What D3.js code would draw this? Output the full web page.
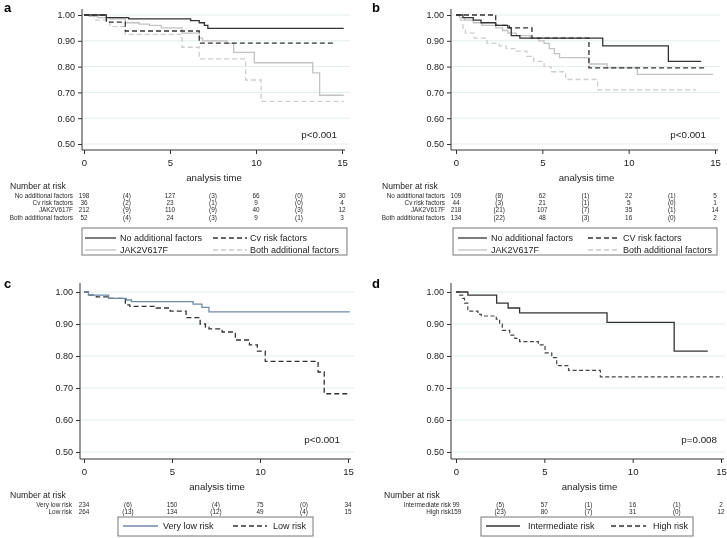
<!DOCTYPE html>
<html>
<head>
<meta charset="utf-8">
<script src="https://cdn.jsdelivr.net/npm/d3@7"></script>
<style>
  body { margin: 0; background: #fff; }
  svg { display: block; font-family: "Liberation Sans", Arial, sans-serif; will-change: transform; }
  .tick text { font-size: 9px; fill: #222; }
  .tick line, .axis-line { stroke: #333; }
  .grid { stroke: #e3edee; stroke-width: 1; }
  .lbl { font-size: 9.6px; fill: #222; }
  .risk { font-size: 6.4px; fill: #2a2a2a; opacity: 0.999; }
  .leg { font-size: 9px; fill: #222; }
  .panel-id { font-size: 13px; font-weight: bold; }
</style>
</head>
<body>
<div class="content"></div>
<script>
// ---- data: [time, survival] steps ----
const aNone = [[0,1],[1.3,0.99],[2.6,0.985],[6.2,0.978],[6.7,0.97],[7.0,0.96],[7.2,0.948],[15.1,0.948]];
const aCv = [[0,1],[1.3,0.972],[2.4,0.938],[6.7,0.891],[14.5,0.891]];
const aJak = [[0,1],[0.3,0.995],[0.8,0.99],[1.5,0.985],[2.4,0.97],[3.2,0.965],[3.8,0.96],[4.5,0.95],[5.7,0.93],[6.7,0.91],[6.9,0.9],[8.3,0.89],[8.7,0.855],[9.9,0.815],[13.3,0.776],[13.7,0.689],[15.1,0.689]];
const aBoth = [[0,1],[0.6,0.98],[1.5,0.955],[2.4,0.925],[5.7,0.875],[6.7,0.83],[9.4,0.748],[10.3,0.665],[15.1,0.665]];

const bNone = [[0,1],[0.4,0.99],[1.0,0.98],[1.45,0.97],[2.3,0.96],[3.0,0.95],[3.2,0.92],[3.7,0.91],[8.5,0.88],[12.3,0.82],[14.2,0.82]];
const bCv = [[0,1],[2.3,0.96],[3.1,0.95],[4.4,0.91],[7.7,0.795],[14.4,0.795]];
const bJak = [[0,1],[0.2,0.99],[0.5,0.98],[1.0,0.97],[1.5,0.96],[2.3,0.95],[2.7,0.94],[3.0,0.93],[3.5,0.92],[4.3,0.91],[4.8,0.9],[5.1,0.89],[5.4,0.87],[5.7,0.85],[6.0,0.835],[7.7,0.81],[8.75,0.795],[10.5,0.77],[14.9,0.77]];
const bBoth = [[0,1],[0.25,0.98],[0.4,0.95],[0.55,0.93],[1.05,0.91],[1.8,0.89],[2.5,0.88],[2.9,0.87],[3.5,0.86],[4.1,0.84],[4.5,0.82],[5.1,0.8],[5.5,0.78],[6.35,0.75],[8.2,0.71],[13.9,0.71]];

const cVeryLow = [[0,1],[0.25,0.99],[1.4,0.98],[2.4,0.975],[2.7,0.97],[6.2,0.962],[6.7,0.952],[7.1,0.938],[15.1,0.938]];
const cLow = [[0,1],[0.25,0.99],[0.7,0.985],[1.5,0.98],[2.35,0.96],[2.6,0.955],[4.1,0.95],[4.9,0.94],[5.8,0.92],[6.6,0.9],[6.9,0.89],[7.1,0.885],[7.85,0.875],[8.6,0.85],[9.4,0.835],[9.85,0.815],[10.3,0.783],[13.3,0.75],[13.65,0.682],[15.1,0.682]];

const dInter = [[0,1],[0.67,0.99],[2.3,0.965],[2.95,0.95],[3.6,0.935],[8.55,0.905],[12.35,0.815],[14.25,0.815]];
const dHigh = [[0,1],[0.2,0.99],[0.38,0.98],[0.48,0.965],[0.67,0.94],[1.24,0.93],[1.43,0.925],[2.28,0.915],[2.47,0.9],[2.62,0.88],[3.04,0.865],[3.33,0.855],[3.6,0.845],[4.66,0.835],[5.04,0.81],[5.42,0.795],[5.7,0.77],[6.37,0.755],[8.17,0.735],[15.1,0.735]];

// ---- number at risk tables ----
const riskTimes = [0, 2.5, 5, 7.5, 10, 12.5, 15];
const aRiskLabels = ["No additional factors", "Cv risk factors", "JAK2V617F", "Both additional factors"];
const aRisk = [
  ["198","(4)","127","(3)","66","(0)","30"],
  ["36","(2)","23","(1)","9","(0)","4"],
  ["212","(9)","110","(9)","40","(3)","12"],
  ["52","(4)","24","(3)","9","(1)","3"]
];
const bRiskLabels = ["No additional factors", "Cv risk factors", "JAK2V617F", "Both additional factors"];
const bRisk = [
  ["109","(8)","62","(1)","22","(1)","5"],
  ["44","(3)","21","(1)","5","(0)","1"],
  ["218","(21)","107","(7)","35","(1)","14"],
  ["134","(22)","48","(3)","16","(0)","2"]
];
const cRiskLabels = ["Very low risk", "Low risk"];
const cRisk = [
  ["234","(6)","150","(4)","75","(0)","34"],
  ["264","(13)","134","(12)","49","(4)","15"]
];
const dRiskLabels = ["Intermediate risk", "High risk"];
const dRisk = [
  ["99","(5)","57","(1)","16","(1)","2"],
  ["159","(23)","80","(7)","31","(0)","12"]
];

const yTicks = [0.5, 0.6, 0.7, 0.8, 0.9, 1.0];
const xTicks = [0, 5, 10, 15];

const styles = {
  dark: { stroke: "#333", dash: null, w: 1.3 },
  darkDash: { stroke: "#333", dash: "5,3", w: 1.3 },
  light: { stroke: "#c2c2c2", dash: null, w: 1.3 },
  lightDash: { stroke: "#cdcdcd", dash: "5,3", w: 1.3 },
  blue: { stroke: "#6f8bab", dash: null, w: 1.3 },
  darkDash2: { stroke: "#444", dash: "4,2.5", w: 1.2 }
};

const svg = d3.select(".content").append("svg")
  .attr("width", 727).attr("height", 538);

function drawPanel(p) {
  const g = svg.append("g");
  const x = d3.scaleLinear().domain([0, 15]).range(p.xr);
  const y = d3.scaleLinear().domain([0.5, 1]).range(p.yr);

  g.append("text").attr("class", "panel-id").attr("x", p.idPos[0]).attr("y", p.idPos[1]).text(p.id);

  //--> gridlines
  g.selectAll(".grid").data(yTicks).enter().append("line")
    .attr("class", "grid")
    .attr("x1", p.axisX + 1).attr("x2", p.gridEnd)
    .attr("y1", d => y(d)).attr("y2", d => y(d));

  //--> y axis
  const yAxis = d3.axisLeft(y).tickValues(yTicks).tickFormat(d3.format(".2f")).tickSize(4).tickSizeOuter(0);
  const ya = g.append("g").attr("transform", `translate(${p.axisX},0)`).call(yAxis);
  ya.select(".domain").remove();
  ya.selectAll("text").attr("x", -7);
  g.append("line").attr("class", "axis-line")
    .attr("x1", p.axisX).attr("x2", p.axisX)
    .attr("y1", p.axisTop).attr("y2", p.axisBottom);

  //--> x axis
  const xAxis = d3.axisBottom(x).tickValues(xTicks).tickSize(4).tickSizeOuter(0);
  const xa = g.append("g").attr("transform", `translate(0,${p.axisBottom})`).call(xAxis);
  xa.select(".domain").remove();
  xa.selectAll("text").attr("y", 9).style("font-size", "9.6px");
  g.append("line").attr("class", "axis-line")
    .attr("x1", p.axisX).attr("x2", x(15) + 3)
    .attr("y1", p.axisBottom).attr("y2", p.axisBottom);

  g.append("text").attr("class", "lbl").attr("text-anchor", "middle")
    .attr("x", (x(0) + x(15)) / 2 + 1).attr("y", p.axisBottom + 31).text("analysis time");

  //--> curves
  const line = d3.line().x(d => x(d[0])).y(d => y(d[1])).curve(d3.curveStepAfter);
  p.series.forEach(s => {
    const st = styles[s.style];
    g.append("path").datum(s.data)
      .attr("d", line)
      .attr("fill", "none")
      .attr("stroke", st.stroke)
      .attr("stroke-width", st.w)
      .attr("stroke-dasharray", st.dash);
  });

  g.append("text").attr("class", "lbl").attr("text-anchor", "end")
    .attr("x", p.pPos[0]).attr("y", p.pPos[1]).style("font-size", "9.8px").text(p.pval);

  //--> number at risk
  const t0 = p.axisBottom + 39;
  g.append("text").attr("class", "lbl").attr("x", p.narX).attr("y", t0)
    .style("font-size", "8.6px").text("Number at risk");
  p.riskLabels.forEach((lab, i) => {
    const ry = t0 + 9 + i * 7.2;
    g.append("text").attr("class", "risk").attr("text-anchor", "end")
      .attr("x", p.rowLabelX).attr("y", ry).text(lab);
    g.selectAll(null).data(p.risk[i]).enter().append("text")
      .attr("class", "risk").attr("text-anchor", "middle")
      .attr("x", (d, j) => x(riskTimes[j])).attr("y", ry).text(d => d);
  });

  //--> legend
  const L = p.legend;
  g.append("rect").attr("x", L.box[0]).attr("y", L.box[1])
    .attr("width", L.box[2]).attr("height", L.box[3])
    .attr("fill", "#fff").attr("stroke", "#777").attr("stroke-width", 1);
  L.items.forEach(it => {
    const st = styles[it.style];
    g.append("line").attr("x1", it.x1).attr("x2", it.x2).attr("y1", it.y).attr("y2", it.y)
      .attr("stroke", st.stroke).attr("stroke-width", st.w).attr("stroke-dasharray", st.dash);
    g.append("text").attr("class", "leg").attr("x", it.tx).attr("y", it.y + 3.3).text(it.label);
  });
}

drawPanel({
  id: "a", idPos: [4, 12],
  xr: [84, 342], yr: [144, 15], axisX: 82, axisTop: 9, axisBottom: 150, gridEnd: 350,
  series: [
    { data: aJak, style: "light" }, { data: aBoth, style: "lightDash" },
    { data: aCv, style: "darkDash" }, { data: aNone, style: "dark" }
  ],
  pval: "p<0.001", pPos: [337, 138],
  narX: 10, rowLabelX: 73, riskLabels: aRiskLabels, risk: aRisk,
  legend: {
    box: [82, 228, 265, 27],
    items: [
      { x1: 85, x2: 116, y: 238, tx: 120, label: "No additional factors", style: "dark" },
      { x1: 213, x2: 247, y: 238, tx: 250, label: "Cv risk factors", style: "darkDash" },
      { x1: 85, x2: 116, y: 250, tx: 120, label: "JAK2V617F", style: "light" },
      { x1: 213, x2: 247, y: 250, tx: 250, label: "Both additional factors", style: "lightDash" }
    ]
  }
});

drawPanel({
  id: "b", idPos: [372, 12],
  xr: [456, 715], yr: [144, 15], axisX: 451, axisTop: 9, axisBottom: 150, gridEnd: 720,
  series: [
    { data: bJak, style: "light" }, { data: bBoth, style: "lightDash" },
    { data: bCv, style: "darkDash" }, { data: bNone, style: "dark" }
  ],
  pval: "p<0.001", pPos: [706, 138],
  narX: 382, rowLabelX: 445, riskLabels: bRiskLabels, risk: bRisk,
  legend: {
    box: [453, 228, 264, 27],
    items: [
      { x1: 458, x2: 487, y: 238, tx: 491, label: "No additional factors", style: "dark" },
      { x1: 588, x2: 618, y: 238, tx: 623, label: "CV risk factors", style: "darkDash" },
      { x1: 458, x2: 487, y: 250, tx: 491, label: "JAK2V617F", style: "light" },
      { x1: 588, x2: 618, y: 250, tx: 623, label: "Both additional factors", style: "lightDash" }
    ]
  }
});

drawPanel({
  id: "c", idPos: [4, 288],
  xr: [84, 348], yr: [452, 292], axisX: 80, axisTop: 283, axisBottom: 459, gridEnd: 354,
  series: [
    { data: cLow, style: "darkDash" }, { data: cVeryLow, style: "blue" }
  ],
  pval: "p<0.001", pPos: [340, 443],
  narX: 10, rowLabelX: 72, riskLabels: cRiskLabels, risk: cRisk,
  legend: {
    box: [118, 517, 195, 19],
    items: [
      { x1: 123, x2: 158, y: 526, tx: 163, label: "Very low risk", style: "blue" },
      { x1: 233, x2: 267, y: 526, tx: 273, label: "Low risk", style: "darkDash" }
    ]
  }
});

drawPanel({
  id: "d", idPos: [372, 288],
  xr: [456, 721], yr: [452, 292], axisX: 451, axisTop: 283, axisBottom: 459, gridEnd: 725,
  series: [
    { data: dHigh, style: "darkDash2" }, { data: dInter, style: "dark" }
  ],
  pval: "p=0.008", pPos: [717, 443],
  narX: 384, rowLabelX: 451, riskLabels: dRiskLabels, risk: dRisk,
  legend: {
    box: [481, 517, 212, 19],
    items: [
      { x1: 486, x2: 520, y: 526, tx: 528, label: "Intermediate risk", style: "dark" },
      { x1: 611, x2: 646, y: 526, tx: 653, label: "High risk", style: "darkDash" }
    ]
  }
});
</script>
</body>
</html>
